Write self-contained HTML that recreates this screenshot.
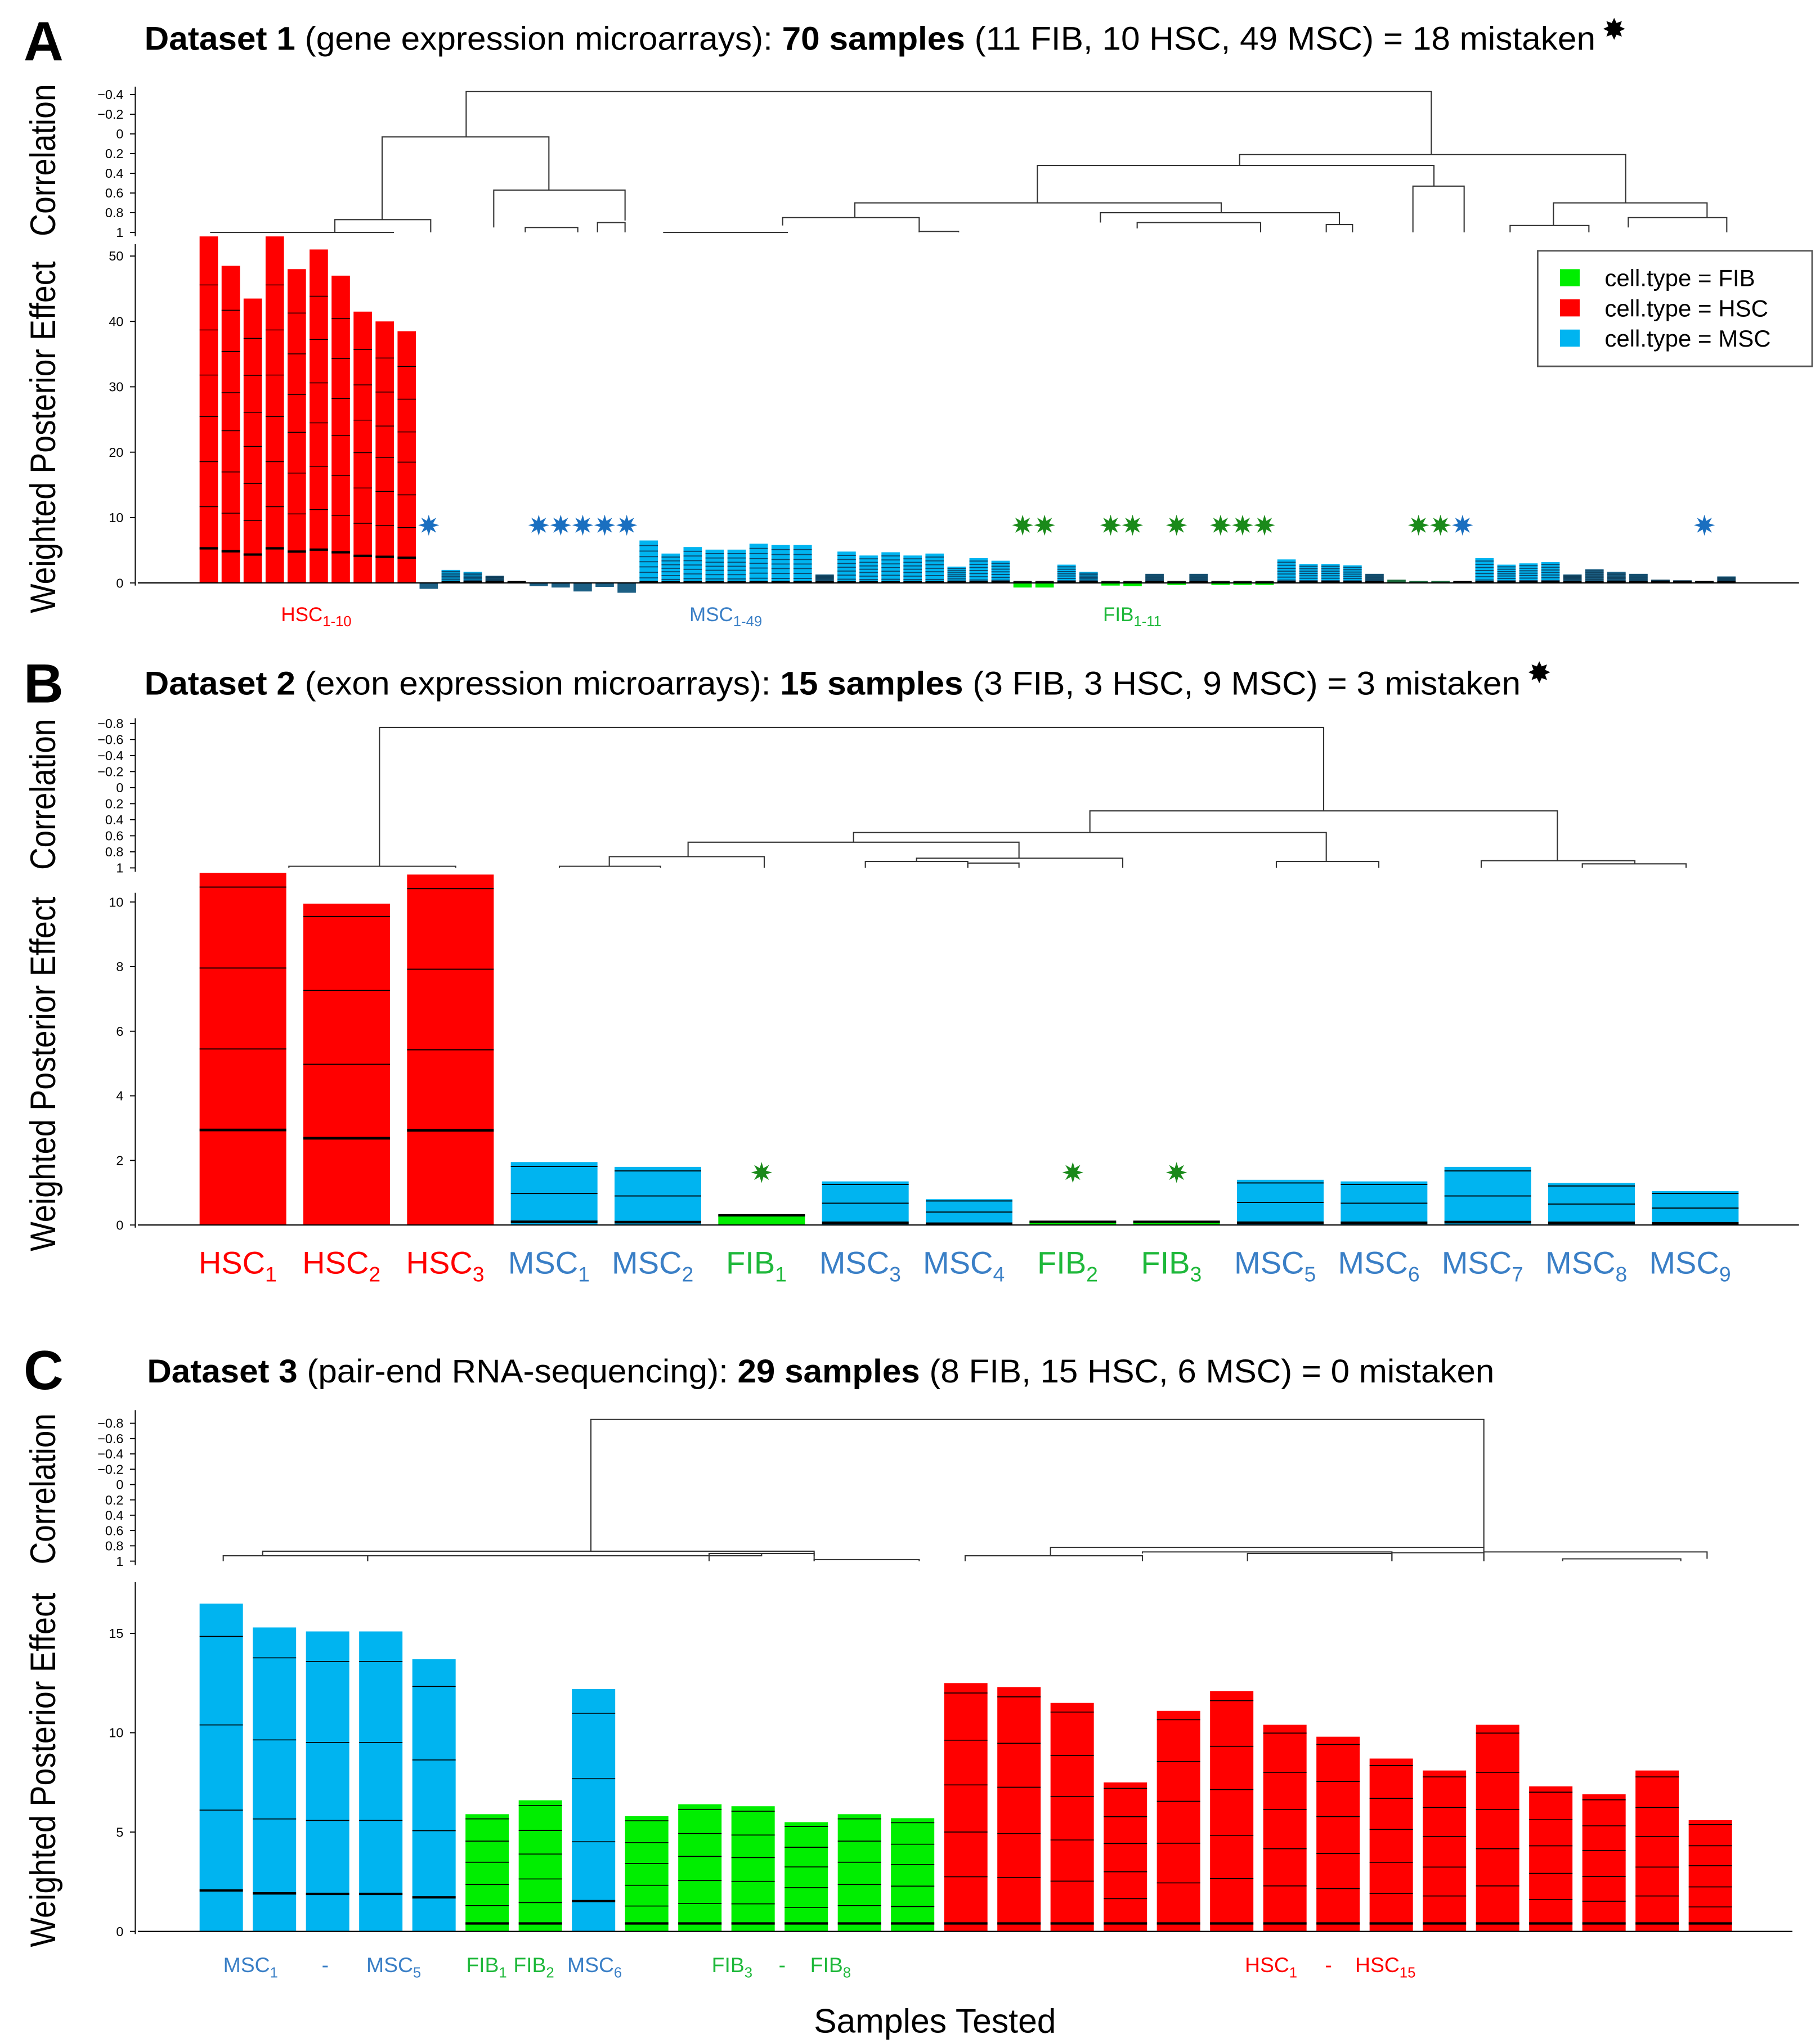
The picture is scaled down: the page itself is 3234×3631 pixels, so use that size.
<!DOCTYPE html>
<html><head><meta charset="utf-8"><style>
html,body{margin:0;padding:0;background:#fff}
svg{display:block}
text{font-family:"Liberation Sans",Arial,sans-serif}
</style></head><body>
<svg id="fig" xmlns="http://www.w3.org/2000/svg" width="3234" height="3631" viewBox="0 0 1386 1556" preserveAspectRatio="none">
<g>
<text x="18" y="46" font-size="42" font-weight="bold">A</text>
<text x="110" y="38" font-size="25" textLength="1105" lengthAdjust="spacingAndGlyphs"><tspan font-weight="bold">Dataset 1</tspan> (gene expression microarrays): <tspan font-weight="bold">70 samples</tspan> (11 FIB, 10 HSC, 49 MSC) = 18 mistaken</text>
<text x="1220" y="30" font-size="22">✸</text>
</g>
<g>
<text x="18" y="535" font-size="42" font-weight="bold">B</text>
<text x="110" y="529" font-size="25" textLength="1048" lengthAdjust="spacingAndGlyphs"><tspan font-weight="bold">Dataset 2</tspan> (exon expression microarrays): <tspan font-weight="bold">15 samples</tspan> (3 FIB, 3 HSC, 9 MSC) = 3 mistaken</text>
<text x="1163" y="520" font-size="22">✸</text>
</g>
<g>
<text x="18" y="1058" font-size="42" font-weight="bold">C</text>
<text x="112" y="1053" font-size="25" textLength="1026" lengthAdjust="spacingAndGlyphs"><tspan font-weight="bold">Dataset 3</tspan> (pair-end RNA-sequencing): <tspan font-weight="bold">29 samples</tspan> (8 FIB, 15 HSC, 6 MSC) = 0 mistaken</text>
</g>
<text x="712" y="1548" font-size="26" text-anchor="middle">Samples Tested</text>
<g>
<rect x="1171" y="191" width="209" height="88" fill="#fff" stroke="#555" stroke-width="1.2"/>
<rect x="1188" y="205" width="15" height="13" fill="#00ee00"/>
<text x="1222" y="218" font-size="18">cell.type = FIB</text>
<rect x="1188" y="228" width="15" height="13" fill="#ff0000"/>
<text x="1222" y="241" font-size="18">cell.type = HSC</text>
<rect x="1188" y="251" width="15" height="13" fill="#00b4f0"/>
<text x="1222" y="264" font-size="18">cell.type = MSC</text>
</g>
</svg>
<script>
// ---------- DATA ----------
const aValues=[53,48.5,43.5,53,48,51,47,41.5,40,38.5,
-0.9,2.0,1.7,1.1,0.2,-0.5,-0.7,-1.3,-0.6,-1.5,
6.5,4.5,5.5,5.1,5.1,6.0,5.8,5.8,1.3,4.8,4.2,4.7,4.2,4.5,2.5,3.8,3.4,
-0.7,-0.7,2.8,1.7,-0.4,-0.5,1.4,-0.3,1.4,-0.3,-0.3,-0.3,3.6,2.9,2.9,2.7,1.4,0.5,0.3,0.3,0.2,
3.8,2.8,3.0,3.2,1.3,2.1,1.7,1.4,0.5,0.4,0.3,1.0];
const aTypes="HHHHHHHHHHDMMDDDDDDDMMMMMMMMDMMMMMMMMFFMMFFDFDFFFMMMMDFFFDMMMMDDDDDDDD".split("");
const aStarsBlue=[11,16,17,18,19,20,58,69];
const aStarsGreen=[38,39,42,43,45,47,48,49,56,57];
const aTicks=[0,10,20,30,40,50];
const corrTicksA=[-0.4,-0.2,0,0.2,0.4,0.6,0.8,1];
const corrTicksBC=[-0.8,-0.6,-0.4,-0.2,0,0.2,0.4,0.6,0.8,1];

const bCategories=["HSC","HSC","HSC","MSC","MSC","FIB","MSC","MSC","FIB","FIB","MSC","MSC","MSC","MSC","MSC"];
const bSubs=["1","2","3","1","2","1","3","4","2","3","5","6","7","8","9"];
const bValues=[10.9,9.95,10.85,1.95,1.8,0.3,1.35,0.8,0.1,0.1,1.4,1.35,1.8,1.3,1.05];
const bStars=[6,9,10];
const bTicks=[0,2,4,6,8,10];

const cCategories=["MSC","MSC","MSC","MSC","MSC","FIB","FIB","MSC","FIB","FIB","FIB","FIB","FIB","FIB",
"HSC","HSC","HSC","HSC","HSC","HSC","HSC","HSC","HSC","HSC","HSC","HSC","HSC","HSC","HSC"];
const cValues=[16.5,15.3,15.1,15.1,13.7,5.9,6.6,12.2,5.8,6.4,6.3,5.5,5.9,5.7,
12.5,12.3,11.5,7.5,11.1,12.1,10.4,9.8,8.7,8.1,10.4,7.3,6.9,8.1,5.6];
const cTicks=[0,5,10,15];

// dendrogram merges: [xLeft, xRight, height(corr), leftChildCorr, rightChildCorr]
const dendroA=[[355,1090,-0.43,0.03,0.21],[291,418,0.03,0.87,0.57],[255,328,0.87,1,1],[376,476,0.57,0.95,0.88],
[944,1238,0.21,0.32,0.7],[790,1092,0.32,0.7,0.53],[651,930,0.7,0.85,0.8],[1076,1115,0.53,1,1],[1183,1300,0.7,0.93,0.85],
[596,700,0.85,0.93,1],[838,1020,0.8,0.9,0.92],[866,960,0.9,0.96,1],[1010,1030,0.92,1,1],[1150,1210,0.93,1,1],[1240,1315,0.85,0.95,1],
[400,440,0.95,1,1],[455,476,0.9,1,1],[160,300,1,1,1],[505,600,1,1,1],[700,730,0.99,1,1]];
const dendroB=[[289,1008,-0.75,0.98,0.29],[220,347,0.98,1,1],[830,1186,0.29,0.56,0.91],[650,1010,0.56,0.68,0.92],
[524,776,0.68,0.86,0.88],[464,582,0.86,0.98,1],[426,503,0.98,1,1],[698,855,0.88,0.92,1],[659,737,0.92,1,1],[737,776,0.94,1,1],
[972,1050,0.92,1,1],[1128,1245,0.91,1,0.95],[1205,1284,0.95,1,1]];
const dendroC=[[450,1130,-0.85,0.87,0.82],[200,620,0.87,0.93,0.93],[170,280,0.93,1,1],[280,580,0.93,1,0.9],[540,620,0.9,1,1],[620,700,0.98,1,1],
[800,1130,0.82,0.93,0.88],[735,870,0.93,1,1],[870,1060,0.88,0.9,0.9],[950,1060,0.9,1,1],[1060,1130,0.89,1,1],[1130,1300,0.88,1,0.97],[1190,1280,0.97,1,1]];

// ---------- DRAW ----------
const NS="http://www.w3.org/2000/svg";
const svg=document.getElementById("fig");
function mk(tag,attrs,parent){const e=document.createElementNS(NS,tag);for(const k in attrs)e.setAttribute(k,attrs[k]);(parent||svg).appendChild(e);return e;}
function grp(name){const g=mk("g",{});


return g;}
function star(cx,cy,r,fill,parent){let p=[];for(let i=0;i<16;i++){const rr=i%2?r*0.45:r;const a=Math.PI*i/8-Math.PI/2;p.push((cx+rr*Math.cos(a)).toFixed(1)+","+(cy+rr*Math.sin(a)).toFixed(1));}
const s=mk("polygon",{points:p.join(" "),fill:fill},parent);

}
function rotLabel(text,cx,cy,len,name){const t=mk("text",{x:0,y:0,"font-size":27,"text-anchor":"middle",textLength:len,lengthAdjust:"spacingAndGlyphs",transform:`translate(${cx},${cy}) rotate(-90)`});t.textContent=text;

}
function axis(ticks,yf,fmt,name,y0,y1){const g=grp(name);
mk("line",{x1:103,x2:103,y1:y0,y2:y1,stroke:"#000","stroke-width":0.8},g);
ticks.forEach(v=>{const y=yf(v);mk("line",{x1:99,x2:103,y1:y,y2:y,stroke:"#000","stroke-width":0.8},g);
const t=mk("text",{x:94,y:y+3.5,"font-size":10,"text-anchor":"end"},g);t.textContent=fmt(v);

});}
function dendro(merges,cy,name){const g=grp(name);merges.forEach(m=>{const[xl,xr,h,hl,hr]=m;
const p=mk("path",{d:`M${xl},${cy(hl)}V${cy(h)}H${xr}V${cy(hr)}`,fill:"none",stroke:"#333","stroke-width":0.9},g);

});}
const fmtC=v=>v===0?"0":(v<0?"\u2212"+Math.abs(v):String(v));

// ===== Panel A =====
const cyA=c=>72+(c+0.4)*75;
const yA=v=>444-v*4.98;
rotLabel("Correlation",42,122,116,"panel-a-correlation-label");
rotLabel("Weighted Posterior Effect",42,333,268,"panel-a-y-axis-title");
axis(corrTicksA,cyA,fmtC,"panel-a-correlation-axis",66,180);
axis(aTicks,yA,String,"panel-a-y-axis",186,446);
dendro(dendroA,cyA,"panel-a-dendrogram");
const gA=grp("panel-a-bars");
const xA=i=>152+i*16.75;
aValues.forEach((v,i)=>{const t=aTypes[i];const x=xA(i),w=14;
let fill=t==="H"?"#ff0000":t==="M"?"#00b4f0":t==="F"?(v<0?"#00ee00":"#1a6a3a"):"#1c5f84";
const y=Math.min(yA(v),yA(0)),h=Math.abs(yA(v)-yA(0));
const r=mk("rect",{x:x,y:y,width:w,height:Math.max(h,1),fill:fill},gA);


if(t==="F"&&v<0){mk("rect",{x:x,y:yA(0.3),width:w,height:yA(0)-yA(0.3),fill:"#111"},gA);}
if(t==="H"){[0.1,0.22,0.35,0.48,0.6,0.73,0.86].forEach((f,k)=>mk("line",{x1:x,x2:x+w,y1:yA(v*f),y2:yA(v*f),stroke:"#000","stroke-width":k?0.6:1.8},gA));}
if((t==="M"||t==="D")&&v>0){[0.12,0.25,0.38,0.5,0.62,0.75,0.88].forEach(f=>mk("line",{x1:x,x2:x+w,y1:yA(v*f),y2:yA(v*f),stroke:t==="M"?"#0a4a70":"#0d3a55","stroke-width":t==="M"?0.8:0.5},gA));
mk("rect",{x:x,y:yA(0)-1.5,width:w,height:1.5,fill:"#000"},gA);}
});
aStarsBlue.forEach(i=>star(xA(i-1)+7,400,8,"#1a6fc0",gA));
aStarsGreen.forEach(i=>star(xA(i-1)+7,400,8,"#1a8a1a",gA));
mk("line",{x1:105,x2:1370,y1:yA(0),y2:yA(0),stroke:"#000","stroke-width":0.9},gA);
[["HSC","1-10",214,"#ff0000"],["MSC","1-49",525,"#3a7fc6"],["FIB","1-11",840,"#1eb83a"]].forEach(l=>{
const t=mk("text",{x:l[2],y:473,"font-size":15,fill:l[3]});t.innerHTML=l[0]+'<tspan dy="4" font-size="11">'+l[1]+'</tspan>';

});

// ===== Panel B =====
const cyB=c=>551+(c+0.8)*(110/1.8);
const yB=v=>933-v*24.6;
rotLabel("Correlation",42,605,115,"panel-b-correlation-label");
rotLabel("Weighted Posterior Effect",42,818,270,"panel-b-y-axis-title");
axis(corrTicksBC,cyB,fmtC,"panel-b-correlation-axis",547,664);
axis(bTicks,yB,String,"panel-b-y-axis",680,935);
dendro(dendroB,cyB,"panel-b-dendrogram");
const gB=grp("panel-b-bars");
const xB=i=>152+i*79;
const col={HSC:"#ff0000",MSC:"#00b4f0",FIB:"#00ee00"};
const tcol={HSC:"#ff0000",MSC:"#3a7fc6",FIB:"#1eb83a"};
bValues.forEach((v,i)=>{const c=bCategories[i],x=xB(i),w=66;
const r=mk("rect",{x:x,y:yB(v),width:w,height:yB(0)-yB(v),fill:col[c]},gB);


if(c==="HSC"){[0.27,0.5,0.73,0.96].forEach((f,k)=>mk("line",{x1:x,x2:x+w,y1:yB(v*f),y2:yB(v*f),stroke:"#000","stroke-width":k?0.8:2},gB));}
else if(c==="MSC"){[0.05,0.5,0.93].forEach((f,k)=>mk("line",{x1:x,x2:x+w,y1:yB(v*f),y2:yB(v*f),stroke:"#000","stroke-width":k?0.8:2},gB));}
else{mk("line",{x1:x,x2:x+w,y1:yB(v),y2:yB(v),stroke:"#000","stroke-width":1.8},gB);}
const t=mk("text",{x:x+w/2-4,y:970,"font-size":24,"text-anchor":"middle",fill:tcol[c]},gB);
t.innerHTML=c+'<tspan dy="6" font-size="16">'+bSubs[i]+'</tspan>';

});
bStars.forEach(i=>star(xB(i-1)+33,893,8,"#1a8a1a",gB));
mk("line",{x1:105,x2:1370,y1:yB(0),y2:yB(0),stroke:"#000","stroke-width":0.9},gB);

// ===== Panel C =====
const cyC=c=>1084+(c+0.8)*(105/1.8);
const yC=v=>1471-v*15.13;
rotLabel("Correlation",42,1134,115,"panel-c-correlation-label");
rotLabel("Weighted Posterior Effect",42,1348,270,"panel-c-y-axis-title");
axis(corrTicksBC,cyC,fmtC,"panel-c-correlation-axis",1074,1192);
axis(cTicks,yC,String,"panel-c-y-axis",1205,1473);
dendro(dendroC,cyC,"panel-c-dendrogram");
const gC=grp("panel-c-bars");
const xC=i=>152+i*40.5;
cValues.forEach((v,i)=>{const c=cCategories[i],x=xC(i),w=33;
const r=mk("rect",{x:x,y:yC(v),width:w,height:yC(0)-yC(v),fill:col[c]},gC);


const fr=c==="MSC"?[0.37,0.63,0.9]:[0.22,0.4,0.59,0.77,0.96];
fr.forEach(f=>mk("line",{x1:x,x2:x+w,y1:yC(v*f),y2:yC(v*f),stroke:"#000","stroke-width":0.7},gC));
const tv=c==="MSC"?v*0.125:0.4;
mk("line",{x1:x,x2:x+w,y1:yC(tv),y2:yC(tv),stroke:"#000","stroke-width":1.8},gC);});
mk("line",{x1:105,x2:1365,y1:yC(0),y2:yC(0),stroke:"#000","stroke-width":0.9},gC);
[["MSC","1",170,"#3a7fc6"],["-","",245,"#3a7fc6"],["MSC","5",279,"#3a7fc6"],["FIB","1",355,"#1eb83a"],["FIB","2",391,"#1eb83a"],["MSC","6",432,"#3a7fc6"],
["FIB","3",542,"#1eb83a"],["-","",593,"#1eb83a"],["FIB","8",617,"#1eb83a"],["HSC","1",948,"#ff0000"],["-","",1009,"#ff0000"],["HSC","15",1032,"#ff0000"]].forEach(l=>{
const t=mk("text",{x:l[2],y:1502,"font-size":16,fill:l[3]},gC);t.innerHTML=l[0]+(l[1]?'<tspan dy="4" font-size="11">'+l[1]+'</tspan>':'');

});
</script>
</body></html>
